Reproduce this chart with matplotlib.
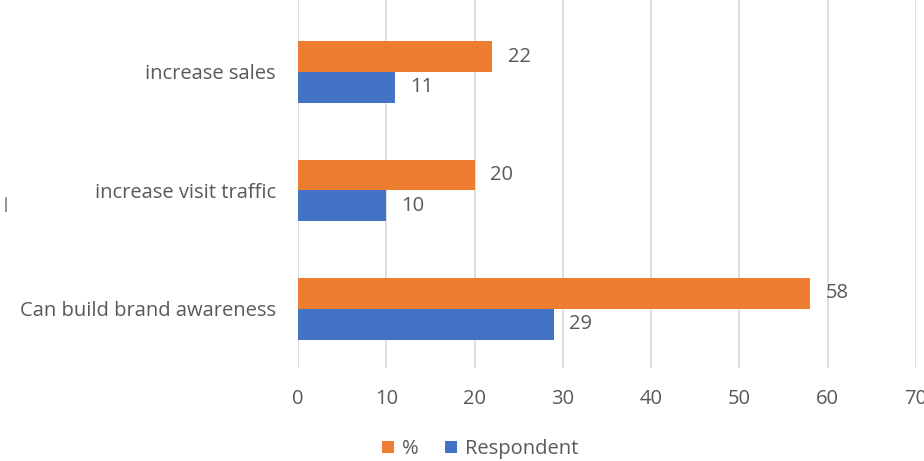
import numpy as np
import matplotlib.pyplot as plt
from matplotlib.lines import Line2D

categories = ['Can build brand awareness', 'increase visit traffic', 'increase sales']
percent = [58, 20, 22]
respondent = [29, 10, 11]

orange = '#ED7D31'
blue = '#4472C4'
text_gray = '#595959'

plt.rcParams['font.family'] = ['Open Sans', 'DejaVu Sans']
fs = 14.5

fig = plt.figure(figsize=(9.24, 4.61), dpi=100)
ax = fig.add_axes([298 / 924, 1 - 368 / 461, 618 / 924, 368 / 461])

y = np.arange(len(categories))
h = 0.26
b1 = ax.barh(y + h / 2, percent, height=h, color=orange, label='%', zorder=3)
b2 = ax.barh(y - h / 2, respondent, height=h, color=blue, label='Respondent', zorder=3)

# data labels
for bars in (b1, b2):
    for r in bars:
        ax.annotate(str(int(r.get_width())), (r.get_width(), r.get_y() + r.get_height() / 2),
                    xytext=(11, 0), textcoords='offset points', va='center', ha='left',
                    fontsize=fs, color=text_gray)

ax.set_xlim(0, 70)
ax.set_ylim(-0.5, 2 + 72 / 118.5)
ax.set_xticks(range(0, 71, 10))
ax.set_yticks(y)
ax.set_yticklabels(categories)
ax.tick_params(axis='both', length=0, labelsize=fs, labelcolor=text_gray)
ax.tick_params(axis='x', pad=15)
ax.tick_params(axis='y', pad=16)
ax.grid(axis='x', color='#D9D9D9', linewidth=1.2, zorder=0)
for s in ax.spines.values():
    s.set_visible(False)

# cropped remnant of an axis title at the left edge
fig.add_artist(Line2D([6 / 924, 6 / 924], [1 - 198 / 461, 1 - 211 / 461],
                      color='#7F7F7F', linewidth=1.2))

leg = fig.legend(handles=[b1, b2], labels=['%', 'Respondent'], loc='lower center',
                 bbox_to_anchor=(480 / 924, -0.035), ncol=2, frameon=False,
                 fontsize=fs, handlelength=0.6, handleheight=0.6,
                 handletextpad=0.4, columnspacing=1.3)
for t in leg.get_texts():
    t.set_color(text_gray)

fig.savefig('out.png', dpi=100)
